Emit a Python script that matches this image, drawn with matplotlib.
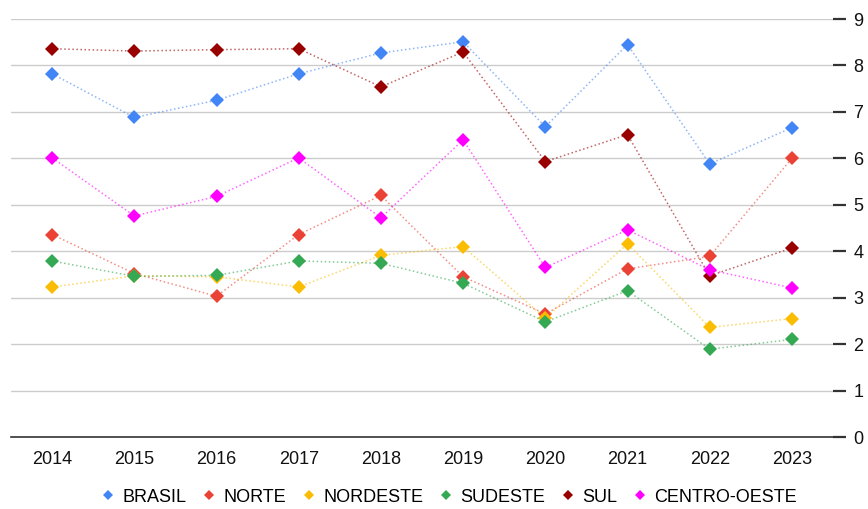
import matplotlib
matplotlib.use('Agg')
import matplotlib.pyplot as plt
from matplotlib.lines import Line2D

plt.rcParams['font.family'] = ['Liberation Sans', 'DejaVu Sans']

years = [2014, 2015, 2016, 2017, 2018, 2019, 2020, 2021, 2022, 2023]
brasil = [7.82, 6.88, 7.25, 7.82, 8.27, 8.51, 6.68, 8.45, 5.88, 6.66]
norte = [4.36, 3.52, 3.03, 4.36, 5.20, 3.45, 2.65, 3.62, 3.89, 6.00]
nordeste = [3.23, 3.47, 3.45, 3.23, 3.91, 4.10, 2.56, 4.16, 2.36, 2.55]
sudeste = [3.79, 3.46, 3.48, 3.79, 3.74, 3.31, 2.48, 3.15, 1.89, 2.10]
sul = [8.36, 8.31, 8.34, 8.36, 7.54, 8.29, 5.93, 6.51, 3.47, 4.07]
centro_oeste = [6.01, 4.76, 5.18, 6.01, 4.72, 6.40, 3.65, 4.46, 3.60, 3.21]

names = ['BRASIL', 'NORTE', 'NORDESTE', 'SUDESTE', 'SUL', 'CENTRO-OESTE']
series = [brasil, norte, nordeste, sudeste, sul, centro_oeste]
colors = ['#4285F4', '#EA4335', '#FBBC04', '#34A853', '#990000', '#FF00FF']

fig = plt.figure(figsize=(8.68, 5.09), dpi=100)
ax = fig.add_axes([11/868, 1 - 437/509, 822/868, 418/509])

for vals, c, n in zip(series, colors, names):
    ax.plot(years, vals, color=c, linestyle=':', linewidth=1.1, alpha=0.6)
    ax.plot(years, vals, color=c, linestyle='none', marker='D', markersize=7.5,
            markeredgewidth=0, label=n)

ax.set_xlim(2013.5, 2023.5)
ax.set_ylim(0, 9)
ax.set_xticks(years)
ax.set_xticklabels([str(y) for y in years])
ax.set_yticks(range(0, 10))
ax.yaxis.tick_right()
ax.grid(axis='y', color='#cccccc', linewidth=1)
ax.set_axisbelow(True)
for s in ['top', 'left', 'right']:
    ax.spines[s].set_visible(False)
ax.spines['bottom'].set_color('#333333')
ax.spines['bottom'].set_linewidth(1.2)
ax.tick_params(axis='x', length=0, pad=10, labelsize=13, labelcolor='#111111')
ax.tick_params(axis='y', length=9, width=1.6, color='#333333', pad=5.5,
               labelsize=13, labelcolor='#111111')

handles = [Line2D([], [], color=c, marker='D', linestyle='none', markersize=5.5,
                  markeredgewidth=0) for c in colors]
fig.legend(handles, names, loc='center', bbox_to_anchor=(449/868, 1 - 497/509),
           ncol=6, frameon=False, fontsize=13, handlelength=0.8,
           handletextpad=0.4, columnspacing=0.85)

fig.savefig('out.png', dpi=100)
